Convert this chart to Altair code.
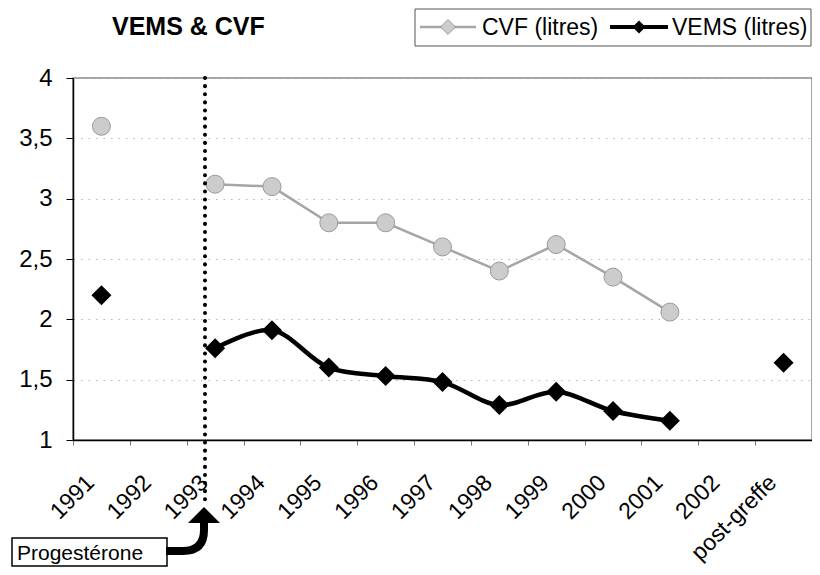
import altair as alt
import pandas as pd

# ---- data ----
categories = ["1991", "1992", "1993", "1994", "1995", "1996", "1997",
              "1998", "1999", "2000", "2001", "2002", "post-greffe"]
cvf = [3.60, None, 3.12, 3.10, 2.80, 2.80, 2.60, 2.40, 2.62, 2.35, 2.06, None, None]
vems = [2.20, None, 1.76, 1.91, 1.60, 1.53, 1.48, 1.29, 1.40, 1.24, 1.16, None, 1.64]
segment = ["avant", "", "suivi", "suivi", "suivi", "suivi", "suivi",
           "suivi", "suivi", "suivi", "suivi", "", "post"]
y_ticks = [1, 1.5, 2, 2.5, 3, 3.5, 4]
series_names = ["CVF (litres)", "VEMS (litres)"]
title_text = "VEMS & CVF"
note_text = "Progestérone"

FONT = "Liberation Sans"


def frame(values):
    rows = [{"annee": c, "valeur": v, "seg": s}
            for c, v, s in zip(categories, values, segment) if v is not None]
    return pd.DataFrame(rows)


df_cvf = frame(cvf)
df_vems = frame(vems)
one = pd.DataFrame({"k": [0]})

x_enc = alt.X(
    "annee:N", sort=categories,
    scale=alt.Scale(type="band", domain=categories, paddingInner=0, paddingOuter=0),
    axis=alt.Axis(title=None, labelAngle=-45, labelAlign="right", labelBaseline="top",
                  labelOffset=-19, labelPadding=26, tickBand="extent", tickSize=5,
                  tickColor="#777777", domainColor="black", domainWidth=1.5,
                  labelFontSize=23, labelFont=FONT, labelColor="black", grid=False,
                  labelOverlap=False),
)
y_enc = alt.Y(
    "valeur:Q",
    scale=alt.Scale(domain=[1, 4], nice=False, zero=False),
    axis=alt.Axis(title=None, values=y_ticks,
                  labelExpr="replace(toString(datum.value), '.', ',')",
                  labelFontSize=24, labelFont=FONT, labelColor="black",
                  tickSize=7, tickColor="black", labelPadding=14,
                  domainColor="black", domainWidth=1.5,
                  grid=True, gridColor="#b5b5b5", gridDash=[1.5, 6], gridWidth=1),
)

GRAY_LINE = "#a6a6a6"
GRAY_FILL = "#cccccc"

cvf_line = alt.Chart(df_cvf).mark_line(color=GRAY_LINE, strokeWidth=2.5).encode(
    x=x_enc, y=y_enc, detail="seg:N")
cvf_pts = alt.Chart(df_cvf).mark_point(
    shape="circle", size=324, filled=True, fill=GRAY_FILL, stroke="#9a9a9a",
    strokeWidth=1, opacity=1).encode(x=x_enc, y=y_enc)

vems_line = alt.Chart(df_vems).mark_line(
    color="black", strokeWidth=4.5, interpolate="catmull-rom").encode(
    x=x_enc, y=y_enc, detail="seg:N")
vems_pts = alt.Chart(df_vems).mark_point(
    shape="diamond", size=400, filled=True, fill="black", opacity=1).encode(
    x=x_enc, y=y_enc)

# ---- annotations (pixel positions relative to the plot area) ----
dotted = alt.Chart(one).mark_rule(
    color="black", strokeWidth=4, strokeCap="round", strokeDash=[0.1, 8]).encode(
    x=alt.value(132), y=alt.value(0), y2=alt.value(428))

note_box = alt.Chart(one).mark_rect(
    fill="white", stroke="black", strokeWidth=1.5).encode(
    x=alt.value(-61), x2=alt.value(94), y=alt.value(460), y2=alt.value(488))
note_label = alt.Chart(one).mark_text(
    align="left", baseline="alphabetic", font=FONT, fontSize=21, color="black").encode(
    x=alt.value(-56), y=alt.value(482), text=alt.value(note_text))

arrow_shaft = alt.Chart(one).mark_point(
    shape="M0,0 V8 Q0,29 -21,29 H-38", size=4, filled=False, stroke="black",
    strokeWidth=8, opacity=1, strokeCap="butt").encode(
    x=alt.value(131), y=alt.value(444))
arrow_head = alt.Chart(one).mark_point(
    shape="M0,-8 L16,8 L-16,8 Z", size=4, filled=True, fill="black",
    opacity=1).encode(x=alt.value(131), y=alt.value(437))

title = alt.Chart(one).mark_text(
    align="left", baseline="alphabetic", font=FONT, fontSize=25,
    fontWeight="bold", color="black").encode(
    x=alt.value(39), y=alt.value(-43), text=alt.value(title_text))

# ---- legend box ----
leg_box = alt.Chart(one).mark_rect(
    fill="white", stroke="#555555", strokeWidth=1).encode(
    x=alt.value(342), x2=alt.value(738), y=alt.value(-69), y2=alt.value(-32))
leg_cvf_line = alt.Chart(one).mark_rule(color=GRAY_LINE, strokeWidth=2.5).encode(
    x=alt.value(347), x2=alt.value(403), y=alt.value(-51))
leg_cvf_pt = alt.Chart(one).mark_point(
    shape="diamond", size=220, filled=True, fill=GRAY_FILL, stroke="#9a9a9a",
    strokeWidth=1, opacity=1).encode(x=alt.value(375), y=alt.value(-51))
leg_cvf_txt = alt.Chart(one).mark_text(
    align="left", baseline="alphabetic", font=FONT, fontSize=23, color="black").encode(
    x=alt.value(409), y=alt.value(-43), text=alt.value(series_names[0]))
leg_vems_line = alt.Chart(one).mark_rule(color="black", strokeWidth=4).encode(
    x=alt.value(537), x2=alt.value(595), y=alt.value(-51))
leg_vems_pt = alt.Chart(one).mark_point(
    shape="diamond", size=169, filled=True, fill="black", opacity=1).encode(
    x=alt.value(566), y=alt.value(-51))
leg_vems_txt = alt.Chart(one).mark_text(
    align="left", baseline="alphabetic", font=FONT, fontSize=23, color="black").encode(
    x=alt.value(599), y=alt.value(-43), text=alt.value(series_names[1]))

chart = alt.layer(
    cvf_line, cvf_pts, vems_line, vems_pts,
    dotted, note_box, note_label, arrow_shaft, arrow_head, title,
    leg_box, leg_cvf_line, leg_cvf_pt, leg_cvf_txt,
    leg_vems_line, leg_vems_pt, leg_vems_txt,
).properties(
    width=739, height=362,
    autosize=alt.AutoSizeParams(type="none"),
    padding={"left": 65, "top": 70, "right": 0, "bottom": 127},
    background="white",
).configure_view(stroke="#888888", strokeWidth=1.5)

chart.save("out.html", embed_options={"renderer": "svg", "actions": False})
